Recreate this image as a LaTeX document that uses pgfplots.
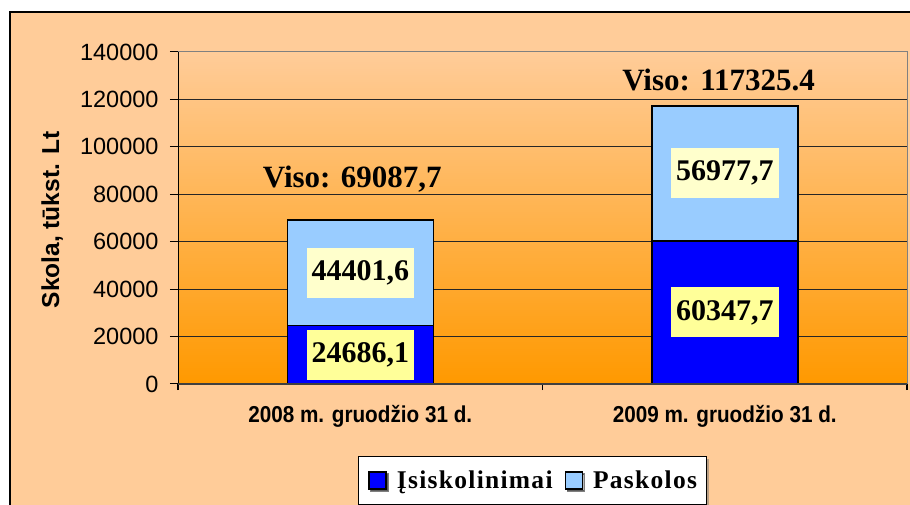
\documentclass[border=0pt]{standalone}
\usepackage{fontspec}
\setmainfont{Liberation Serif}
\setsansfont{Liberation Sans}
\newfontfamily\legfont{Liberation Serif}[LetterSpace=5]
\usepackage{pgfplots}
\pgfplotsset{compat=1.18}
\usetikzlibrary{shadows}

\definecolor{peach}{HTML}{FFCC99}
\definecolor{orng}{HTML}{FF9900}
\definecolor{blueA}{HTML}{0000FF}
\definecolor{blueB}{HTML}{99CCFF}
\definecolor{lblA}{HTML}{FFFF99}
\definecolor{lblB}{HTML}{FFFFCC}

\newcommand\cat[1]{\scalebox{0.9}[1]{#1}}

\begin{document}
\begin{tikzpicture}[
  vl/.style={inner xsep=5bp, minimum height=50bp,
    font=\bfseries\fontsize{30bp}{36bp}\selectfont},
  viso/.style={anchor=base, font=\bfseries\fontsize{31bp}{37bp}\selectfont}]
\useasboundingbox (0,0) rectangle (910bp,505bp);
\clip (0,0) rectangle (910bp,505bp);
% chart area
\draw[fill=peach, line width=1.5bp] (10bp,-20bp) rectangle (940bp,493bp);

\begin{axis}[
  name=ax,
  at={(178bp,121bp)}, anchor=south west,
  width=729bp, height=332bp, scale only axis,
  ybar stacked, bar width=146bp,
  xmin=-0.5, xmax=1.5, ymin=0, ymax=140000,
  xtick={0,1},
  xticklabels={\cat{2008 m. gruodžio 31 d.}, \cat{2009 m. gruodžio 31 d.}},
  minor xtick={-0.5,0.5,1.5},
  ytick={0,20000,40000,60000,80000,100000,120000,140000},
  yticklabels={0,20000,40000,60000,80000,100000,120000,140000},
  scaled y ticks=false,
  xtick pos=lower, ytick pos=left,
  axis background/.style={shade, top color=peach, bottom color=orng},
  axis line style={draw=gray, line width=1bp},
  ymajorgrids, major grid style={draw=black!85, line width=1bp},
  tick align=outside, major tick length=8bp, minor tick length=6bp,
  major x tick style={draw=none},
  minor x tick style={draw=black, line width=1.5bp},
  ytick style={draw=black, line width=1bp},
  yticklabel style={font=\sffamily\fontsize{23.5bp}{28bp}\selectfont, xshift=-8bp},
  xticklabel style={font=\sffamily\bfseries\fontsize{23bp}{27bp}\selectfont,
    anchor=base, yshift=-30bp},
  ylabel={Skola, tūkst. Lt},
  ylabel style={at={(axis description cs:-0.1728,0.494)}, anchor=center,
    font=\sffamily\bfseries\fontsize{24.5bp}{29bp}\selectfont},
  every axis plot/.append style={draw=black, line width=1.5bp,
    legend image code/.code={\draw[##1] (0bp,-8.5bp) rectangle (17bp,8.5bp);}},
  legend columns=-1,
  legend style={at={(0.2469,-0.2169)}, anchor=north west,
    draw=black, line width=1bp, fill=white,
    inner xsep=10bp, inner ysep=14.5bp,
    nodes={inner sep=0pt, text height=17bp, text depth=0pt},
    font=\legfont\bfseries\fontsize{25.5bp}{30bp}\selectfont,
    drop shadow={shadow xshift=2bp, shadow yshift=-2bp, fill=black!55},
    /tikz/every odd column/.append style={column sep=10bp},
    /tikz/every even column/.append style={column sep=12bp}},
]
\addplot[fill=blueA] coordinates {(0,24686.1) (1,60347.7)};
\addplot[fill=blueB] coordinates {(0,44401.6) (1,56977.7)};
\legend{Įsiskolinimai, Paskolos\hspace{8bp}}

\coordinate (a1) at (axis cs:0,12343.05);
\coordinate (b1) at (axis cs:0,46886.9);
\coordinate (a2) at (axis cs:1,30173.85);
\coordinate (b2) at (axis cs:1,88836.55);
\coordinate (v1) at (axis cs:-0.022,82650);
\coordinate (v2) at (axis cs:0.983,123680);
\end{axis}

\draw[black, line width=1bp] (ax.south west) -- (ax.north west);
\draw[black!75, line width=2bp] (ax.south west) -- (ax.south east);
\node[vl, fill=lblA] at (a1) {24686,1};
\node[vl, fill=lblB] at (b1) {44401,6};
\node[vl, fill=lblA] at (a2) {60347,7};
\node[vl, fill=lblB] at (b2) {56977,7};
\node[viso] at (v1) {Viso: 69087,7};
\node[viso] at (v2) {Viso: 117325.4};
\end{tikzpicture}
\end{document}
